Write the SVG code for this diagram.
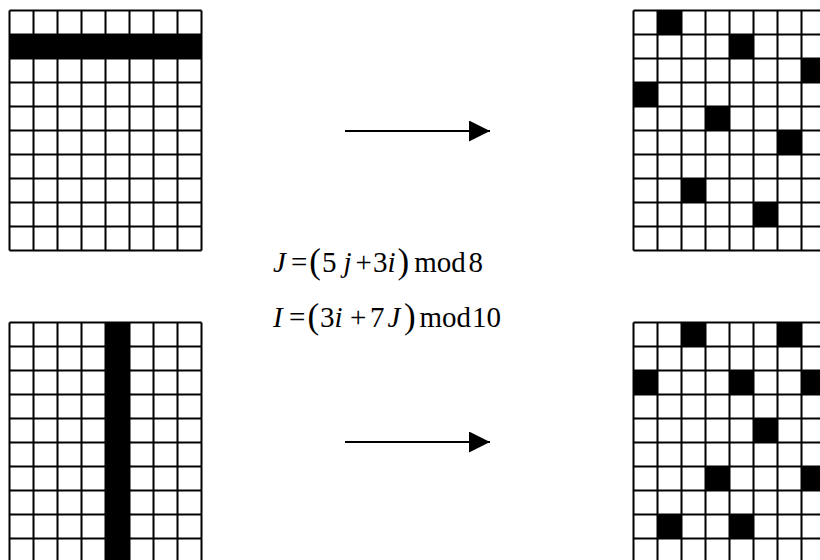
<svg xmlns="http://www.w3.org/2000/svg" width="820" height="560" viewBox="0 0 820 560">
<style>
.cell{fill:#000}
.eq{font-family:"Liberation Serif","Times New Roman",serif;font-size:29px;fill:#000}
.it{font-style:italic}
.par{font-size:35px}
.conn line{stroke:#000;stroke-width:2}
</style>
<defs>
<marker id="ah" markerUnits="userSpaceOnUse" markerWidth="22" markerHeight="22" refX="21" refY="10.5" orient="auto">
<path d="M0,0L21,10.5L0,21Z" fill="#000"/>
</marker>
<g id="gridlines">
<path d="M0,0H192M0,24H192M0,48H192M0,72H192M0,96H192M0,120H192M0,144H192M0,168H192M0,192H192M0,216H192M0,240H192M0,0V240M24,0V240M48,0V240M72,0V240M96,0V240M120,0V240M144,0V240M168,0V240M192,0V240" fill="none" stroke="#000" stroke-width="2"/>
</g>
</defs>
<rect width="820" height="560" fill="#fff"/>

<g id="grid-top-left" transform="translate(9.5,10.5)">
<rect class="cell" x="0" y="24" width="192" height="24"/>
<use href="#gridlines"/>
</g>

<g id="grid-top-right" transform="translate(633.5,10.5)">
<rect class="cell" x="24" y="0" width="24" height="24"/>
<rect class="cell" x="96" y="24" width="24" height="24"/>
<rect class="cell" x="168" y="48" width="24" height="24"/>
<rect class="cell" x="0" y="72" width="24" height="24"/>
<rect class="cell" x="72" y="96" width="24" height="24"/>
<rect class="cell" x="144" y="120" width="24" height="24"/>
<rect class="cell" x="48" y="168" width="24" height="24"/>
<rect class="cell" x="120" y="192" width="24" height="24"/>
<use href="#gridlines"/>
</g>

<g id="grid-bottom-left" transform="translate(9.5,322.5)">
<rect class="cell" x="96" y="0" width="24" height="240"/>
<use href="#gridlines"/>
</g>

<g id="grid-bottom-right" transform="translate(633.5,322.5)">
<rect class="cell" x="48" y="0" width="24" height="24"/>
<rect class="cell" x="144" y="0" width="24" height="24"/>
<rect class="cell" x="0" y="48" width="24" height="24"/>
<rect class="cell" x="96" y="48" width="24" height="24"/>
<rect class="cell" x="168" y="48" width="24" height="24"/>
<rect class="cell" x="120" y="96" width="24" height="24"/>
<rect class="cell" x="72" y="144" width="24" height="24"/>
<rect class="cell" x="168" y="144" width="24" height="24"/>
<rect class="cell" x="24" y="192" width="24" height="24"/>
<rect class="cell" x="96" y="192" width="24" height="24"/>
<use href="#gridlines"/>
</g>

<g id="connectors" class="conn">
<line x1="345" y1="131" x2="490" y2="131" marker-end="url(#ah)"/>
<line x1="345" y1="442" x2="490" y2="442" marker-end="url(#ah)"/>
</g>

<g id="equations">
<text class="eq" y="272"><tspan x="273" class="it">J</tspan><tspan x="290.9">=</tspan><tspan x="309.3" y="273" class="par">(</tspan><tspan x="322" y="272">5</tspan><tspan x="343.5" class="it">j</tspan><tspan x="355.6">+</tspan><tspan x="373">3</tspan><tspan x="387.5" class="it">i</tspan><tspan x="397.6" y="273" class="par">)</tspan><tspan x="414.3" y="272">mod</tspan><tspan x="468.5">8</tspan></text>
<text class="eq" y="327"><tspan x="273" class="it">I</tspan><tspan x="289">=</tspan><tspan x="307.5" y="328" class="par">(</tspan><tspan x="320" y="327">3</tspan><tspan x="334.5" class="it">i</tspan><tspan x="350">+</tspan><tspan x="370">7</tspan><tspan x="387.5" class="it">J</tspan><tspan x="404" y="328" class="par">)</tspan><tspan x="419.5" y="327">mod</tspan><tspan x="472">10</tspan></text>
</g>
</svg>
